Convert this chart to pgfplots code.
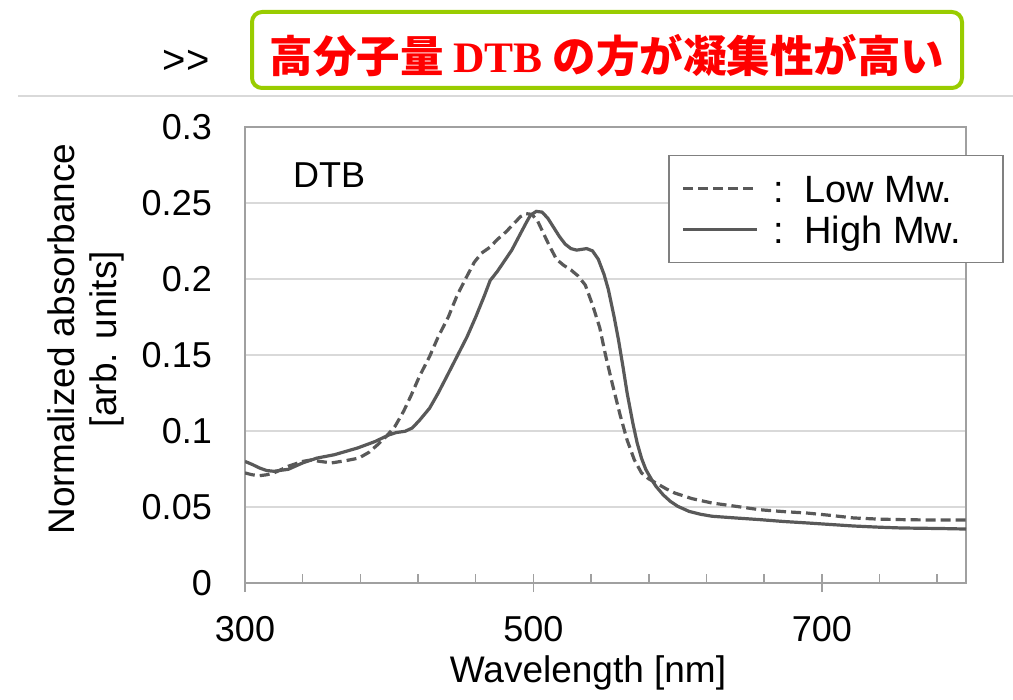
\documentclass[border=0pt]{standalone}
\usepackage{pgfplots}
\pgfplotsset{compat=1.18}
\usepackage{fontspec}
\setmainfont{Liberation Sans}
\newfontfamily\jpfont{Noto Sans CJK JP}
\newfontfamily\serifb{Liberation Serif}

\definecolor{curvegray}{HTML}{595959}
\definecolor{gridgray}{HTML}{D9D9D9}
\definecolor{axisgray}{HTML}{A0A0A0}
\definecolor{legendgray}{HTML}{808080}
\definecolor{titlegreen}{HTML}{99CC00}

\pgfplotstableread{
nm   a
300 0.0724
305 0.0712
310 0.0706
315 0.0712
320 0.0724
330 0.0768
340 0.0800
346 0.0810
352 0.0800
360 0.0790
370 0.0805
379 0.0822
386 0.0860
392 0.0910
398 0.0965
404 0.1030
410 0.1130
415 0.1230
421 0.1360
428 0.1490
434 0.1620
441 0.1750
447 0.1890
454 0.2020
459 0.2110
464 0.2170
470 0.2210
475 0.2260
481 0.2310
487 0.2370
491 0.2410
495 0.2430
499 0.2425
503 0.2380
507 0.2300
511 0.2220
516 0.2130
521 0.2090
526 0.2060
531 0.2020
536 0.1960
541 0.1830
546 0.1680
550 0.1500
555 0.1300
560 0.1110
565 0.0940
570 0.0810
575 0.0724
580 0.0685
585 0.0658
592 0.0620
598 0.0592
610 0.0555
624 0.0526
640 0.0505
657 0.0482
673 0.0470
690 0.0460
706 0.0445
722 0.0428
740 0.0420
755 0.0417
770 0.0415
800 0.0415
}\lowmw

\pgfplotstableread{
nm   a
300 0.0800
305 0.0780
310 0.0757
315 0.0740
320 0.0735
330 0.0748
340 0.0790
350 0.0822
362 0.0844
378 0.0888
390 0.0930
400 0.0975
405 0.0990
411 0.0998
416 0.1020
421 0.1070
428 0.1150
434 0.1250
440 0.1360
447 0.1490
454 0.1620
460 0.1750
466 0.1890
470 0.1990
475 0.2050
480 0.2120
485 0.2190
490 0.2280
495 0.2370
498 0.2420
502 0.2445
506 0.2440
510 0.2400
514 0.2340
518 0.2280
522 0.2230
526 0.2200
530 0.2190
537 0.2200
541 0.2185
545 0.2130
549 0.2030
552 0.1930
556 0.1750
559 0.1600
562 0.1430
565 0.1250
569 0.1050
572 0.0920
575 0.0820
578 0.0746
582 0.0680
585 0.0636
590 0.0580
595 0.0537
600 0.0505
608 0.0471
616 0.0452
624 0.0439
640 0.0428
657 0.0417
673 0.0405
690 0.0395
706 0.0385
722 0.0375
740 0.0367
755 0.0362
770 0.0360
785 0.0358
800 0.0355
}\highmw

\begin{document}
\begin{tikzpicture}[x=1pt,y=1pt]
\useasboundingbox (0,0) rectangle (1013,-700);

% header
\draw[gridgray, line width=1.5pt] (18,-96) -- (1013,-96);
\node[anchor=west, inner sep=0pt, font=\fontsize{40}{44}\selectfont] at (162,-62) {>\kern1pt>};
\draw[titlegreen, fill=white, line width=4pt, rounded corners=10pt] (252,-12) rectangle (962,-88);
\node[red, inner sep=0pt, font=\jpfont\bfseries\fontsize{43.5}{46}\selectfont] at (607,-56)
  {高分子量 {\serifb\bfseries DTB} の方が凝集性が高い};

\begin{axis}[
  at={(245pt,-583pt)}, anchor=south west,
  scale only axis, width=721pt, height=456pt,
  xmin=300, xmax=800, ymin=0, ymax=0.3,
  axis line style={draw=axisgray, line width=1.5pt},
  xtick pos=bottom,
  xtick={300,500,700},
  xticklabels={300,500,700},
  minor xtick={340,380,420,460,540,580,620,660,740,780},
  extra x ticks={300,500,700},
  extra x tick labels={},
  extra x tick style={tick align=outside},
  ytick={0,0.05,0.1,0.15,0.2,0.25,0.3},
  yticklabels={0,0.05,0.1,0.15,0.2,0.25,0.3},
  ymajorgrids,
  major grid style={draw=gridgray, line width=1.8pt},
  ytick style={draw=none},
  xtick style={draw=axisgray, line width=1.5pt},
  minor tick style={draw=axisgray, line width=1.5pt},
  tick align=inside,
  major tick length=9pt, minor tick length=9pt,
  tick label style={font=\fontsize{36}{40}\selectfont, inner sep=0pt},
  yticklabel shift=33pt,
  xticklabel shift=33pt,
  legend style={at={(rel axis cs:0.5867,0.9386)}, anchor=north west,
    draw=legendgray, line width=1.5pt, fill=white,
    font=\fontsize{38}{42}\selectfont,
    inner xsep=13pt, inner ysep=13.5pt, row sep=2pt,
    nodes={inner sep=3pt, text height=30pt, text depth=3pt}},
  legend cell align=left,
  legend image code/.code={\draw[#1] (0pt,0pt) -- (74pt,0pt);},
]
\addplot[curvegray, line width=3.2pt, dash pattern=on 10pt off 5pt] table[x=nm, y=a] {\lowmw};
\addlegendentry{\hspace{12pt}:\hspace{20pt}Low Mw.}
\addplot[curvegray, line width=3.2pt] table[x=nm, y=a] {\highmw};
\addlegendentry{\hspace{12pt}:\hspace{20pt}High Mw.\rule{26pt}{0pt}}
\end{axis}

\node[anchor=base west, inner sep=0pt, font=\fontsize{36}{40}\selectfont] at (293,-188) {DTB};
\node[anchor=base, inner sep=0pt, font=\fontsize{37}{40}\selectfont] at (588,-682) {Wavelength [nm]};
\node[rotate=90, align=center, inner sep=0pt, font=\fontsize{37}{42}\selectfont] at (86,-339)
  {Normalized absorbance\\{[arb. units]}};
\end{tikzpicture}
\end{document}
